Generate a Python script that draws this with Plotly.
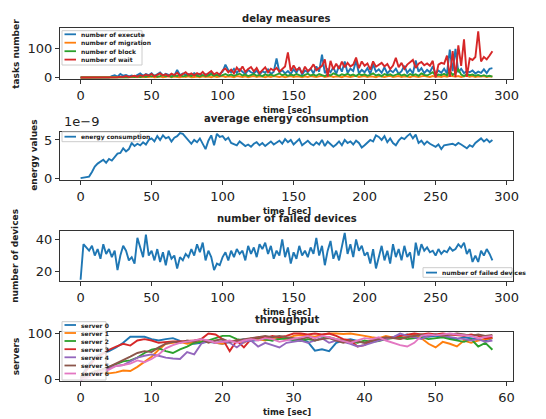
import plotly.graph_objects as go

W, H = 546, 419
def px(x): return x / W
def py(y): return 1 - y / H

# ---------------- data ----------------
time_s = list(range(0, 291, 2))

execute = [0,0,0,0,0,0,0,0,0,0,
           0,5,8,3,12,6,9,4,7,3,10,14,6,12,8,15,5,11,17,7,13,9,10,6,26,8,14,10,12,7,15,9,13,6,11,8,16,10,7,13,
           20,44,25,18,30,15,28,20,12,26,18,14,24,10,22,16,28,12,20,65,18,25,14,22,12,28,16,35,10,24,18,30,14,38,20,
           78,15,28,18,35,12,40,20,55,16,30,22,58,14,26,18,32,12,45,20,28,16,35,14,25,18,30,12,22,40,16,28,14,58,20,
           32,15,26,18,38,12,24,16,30,14,95,22,98,18,30,15,22,18,24,14,20,16,28,15,30,32]
migration = [0]*20 + [1,0,2,1,2,3,1,2,3,1,2,4,1,3,2,1,3,2,4,1,2,3,1,4,2,3,1,4,2,3,
             5,2,4,3,1,5,3,2,4,1,3,5,2,4,3,1,4,2,5,3,2,4,1,3,5,2,4,3,1,4,2,5,3,2,4,
             6,2,3,5,2,4,3,1,5,3,2,4,6,2,3,5,2,4,3,1,5,3,2,4,6,2,3,5,2,4,3,1,5,3,2,
             4,6,3,2,5,3,4,2,5,3,6,4,3,5,2,4,6,3,5,2,4,3,5,2,4,3]
block = [0]*15 + [1,2,1,3,2,4,2,5,3,6,4,7,3,5,8,4,6,3,7,5,9,4,6,8,5,10,6,4,8,5,7,11,6,9,5,
         8,12,7,10,6,9,13,7,10,5,8,12,6,9,5,11,7,10,6,9,14,8,11,6,10,7,12,8,5,9,13,7,10,6,12,
         8,5,10,7,14,9,6,11,8,13,7,10,5,12,8,11,6,9,14,7,10,5,12,8,11,6,9,13,7,10,5,12,8,11,6,
         14,9,7,12,18,6,10,8,13,7,22,9,15,28,10,5,12,8,10,6,9,5,8,4,6,3]
wait = [0,0,0,0,0,0,0,0,0,0,0,
        1,2,1,3,2,5,2,4,6,3,8,5,10,6,12,4,9,14,7,11,5,13,8,16,6,12,18,9,14,7,15,10,19,8,14,22,11,17,9,
        24,31,18,27,14,34,22,38,19,29,36,21,33,15,27,35,18,30,24,33,20,28,38,86,22,41,25,33,14,37,22,30,45,25,34,
        40,62,3,57,28,47,30,54,35,50,38,44,68,32,55,40,48,27,55,37,45,50,38,46,29,41,67,35,50,30,44,52,60,33,47,
        53,42,48,40,57,0,44,50,47,75,2,90,1,110,40,130,3,65,60,70,158,55,70,62,75,90]

energy_e9 = [0,0.05,0.1,0.2,0.8,1.5,1.9,2.1,2.4,2.0,2.5,2.3,2.8,3.2,3.3,3.9,3.5,3.8,4.6,4.2,
             4.5,4.3,4.7,4.4,5.0,5.2,4.8,5.5,5.0,5.6,5.2,5.4,4.8,5.3,5.5,5.9,5.8,5.4,4.9,4.5,
             5.0,4.7,5.2,4.5,3.8,4.9,5.6,4.3,5.8,5.4,5.5,5.0,5.3,4.6,4.5,4.3,4.8,4.5,4.2,4.4,
             4.1,4.5,4.7,4.3,4.6,4.2,4.5,4.8,4.4,4.7,4.9,4.5,5.1,4.7,5.0,4.4,4.8,5.1,4.3,4.6,
             4.9,4.5,4.3,4.7,4.4,5.0,4.2,4.8,4.5,4.1,4.4,4.8,4.3,5.0,4.6,4.8,4.4,4.9,4.6,4.0,
             4.3,4.7,5.0,4.8,5.6,5.4,5.0,5.5,4.7,5.2,4.6,4.3,4.9,5.3,5.1,5.5,5.8,5.2,5.7,4.6,
             4.9,4.4,4.8,4.5,4.3,4.1,4.4,3.8,4.3,4.4,4.4,4.5,4.3,4.6,4.4,4.2,3.9,4.3,4.1,4.6,
             4.9,5.2,4.8,5.1,4.7,5.0]

failed = [15,37,35,33,36,30,34,28,37,31,34,29,33,21,30,36,33,27,29,25,
          41,35,29,43,30,33,27,34,26,32,24,33,28,30,22,29,27,31,29,34,
          30,37,32,38,27,33,29,21,25,24,29,32,27,33,29,34,31,33,27,36,
          31,35,29,37,34,38,31,36,28,33,30,40,29,35,25,32,28,36,30,33,
          29,35,31,41,30,36,24,33,39,28,33,27,36,44,31,37,29,40,33,36,
          30,32,25,34,22,30,36,27,33,25,37,29,34,27,36,29,32,22,38,30,
          37,33,35,32,33,30,34,31,33,32,35,33,34,37,35,38,31,34,26,30,
          26,33,30,34,31,27]

t_thr = list(range(0, 59))
server0 = [5,30,50,57,62,70,80,93,93,93,88,85,88,90,84,80,78,80,82,80,78,82,85,88,84,86,88,85,90,88,
           86,88,82,63,66,62,80,85,88,84,80,84,88,90,92,95,98,92,95,93,95,94,90,88,92,90,88,85,90]
server1 = [2,8,12,15,14,16,20,19,28,40,50,65,78,80,82,78,80,82,85,80,78,83,85,80,90,88,85,90,92,88,
           95,97,95,93,97,100,100,99,100,98,95,92,90,95,92,88,95,98,90,78,70,82,78,72,85,80,85,88,90]
server2 = [3,10,18,22,28,35,40,42,48,58,65,68,62,58,66,72,80,82,85,90,95,95,88,85,88,90,87,85,88,90,
           86,84,88,85,90,92,88,85,82,80,85,82,84,88,90,92,88,90,92,88,90,92,88,85,82,88,72,80,65]
server3 = [3,25,45,55,65,72,78,74,85,88,85,80,82,83,83,84,85,88,100,98,88,62,85,70,88,92,90,95,92,95,
           100,100,98,100,98,100,95,88,85,72,75,85,88,90,92,95,98,100,98,100,98,100,98,96,95,98,95,90,92]
server4 = [0,10,15,20,25,30,32,40,48,52,55,52,48,46,45,60,55,78,85,80,84,80,70,82,85,72,80,75,70,80,
           82,85,80,85,90,80,85,82,78,72,75,80,85,88,92,100,95,92,88,95,98,95,92,90,88,85,88,82,85]
server5 = [2,12,18,22,28,35,42,50,58,62,60,70,78,82,80,85,82,88,80,85,88,82,85,88,90,92,95,92,95,92,
           90,88,92,85,88,90,85,80,85,82,80,85,88,92,90,88,92,95,98,96,98,95,98,100,98,95,98,95,97]
server6 = [0,5,12,18,22,30,32,35,42,38,45,55,68,75,80,83,85,88,85,80,82,85,80,85,88,85,90,88,82,85,
           88,92,95,90,95,92,88,85,80,85,90,88,92,85,80,75,72,80,95,98,96,98,100,98,96,95,90,92,95]

delay_names = ["number of execute", "number of migration", "number of block", "number of wait"]
server_names = ["server 0", "server 1", "server 2", "server 3", "server 4", "server 5", "server 6"]
C = ["#1f77b4", "#ff7f0e", "#2ca02c", "#d62728", "#9467bd", "#8c564b", "#e377c2"]

# ---------------- figure ----------------
fig = go.Figure()
LW = 1.9
for ys, nm, c in zip([execute, migration, block, wait], delay_names, C):
    fig.add_trace(go.Scatter(x=time_s, y=ys, name=nm, mode="lines",
                             line=dict(color=c, width=LW), xaxis="x", yaxis="y"))
fig.add_trace(go.Scatter(x=time_s, y=energy_e9, name="energy consumption", mode="lines",
                         line=dict(color=C[0], width=LW), xaxis="x2", yaxis="y2"))
fig.add_trace(go.Scatter(x=time_s, y=failed, name="number of failed devices", mode="lines",
                         line=dict(color=C[0], width=LW), xaxis="x3", yaxis="y3"))
for ys, nm, c in zip([server0, server1, server2, server3, server4, server5, server6], server_names, C):
    fig.add_trace(go.Scatter(x=t_thr, y=ys, name=nm, mode="lines",
                             line=dict(color=c, width=LW), xaxis="x4", yaxis="y4"))

XL, XR = 60, 513
boxes = [(28.3, 79.3), (131.7, 180.0), (230.7, 281.0), (331.7, 381.0)]
FONT = "DejaVu Sans"
TXT = "#222"

def ax(**kw):
    d = dict(showline=True, mirror=True, linecolor="#333", linewidth=1,
             ticks="outside", ticklen=4, tickcolor="#333", tickwidth=1,
             showgrid=False, zeroline=False, automargin=False,
             tickfont=dict(family=FONT, size=13, color=TXT))
    d.update(kw)
    return d

layout = dict(width=W, height=H, margin=dict(l=0, r=0, t=0, b=0, pad=0),
              paper_bgcolor="white", plot_bgcolor="white", showlegend=False)
xr_main = [-14.5, 304.5]
yranges = [[-6, 168], [-0.25, 6.08], [14.2, 45.4], [-2.5, 104]]
ytv = [[0, 100], [0, 5], [20, 40], [0, 100]]
for i, (top, bot) in enumerate(boxes):
    sfx = "" if i == 0 else str(i + 1)
    dom_y = [py(bot), py(top)]
    if i < 3:
        xa = ax(domain=[px(XL), px(XR)], range=xr_main, tickvals=[0, 50, 100, 150, 200, 250, 300],
                anchor="y" + sfx)
    else:
        xa = ax(domain=[px(XL), px(XR)], range=[-2.9, 60.9], tickvals=[0, 10, 20, 30, 40, 50, 60],
                anchor="y" + sfx)
    ya = ax(domain=dom_y, range=yranges[i], tickvals=ytv[i], anchor="x" + sfx)
    layout["xaxis" + sfx] = xa
    layout["yaxis" + sfx] = ya

fig.update_layout(**layout)

ann = []
shapes = []
cx = (XL + XR) / 2
titles = ["delay measures", "average energy consumption", "number of failed devices", "throughput"]
title_y = [18.3, 118.3, 218.3, 319.5]
for t, y in zip(titles, title_y):
    ann.append(dict(text="<b>%s</b>" % t, x=px(cx), y=py(y), xref="paper", yref="paper",
                    showarrow=False, xanchor="center", yanchor="middle",
                    font=dict(family=FONT, size=10, color=TXT)))
for (top, bot) in boxes:
    ann.append(dict(text="<b>time [sec]</b>", x=px(cx), y=py(bot + 30.5), xref="paper", yref="paper",
                    showarrow=False, xanchor="center", yanchor="middle",
                    font=dict(family=FONT, size=8.5, color=TXT)))
ylabels = ["tasks number", "energy values", "number of devices", "servers"]
ylab_x = [16, 34, 15, 16]
for t, xx, (top, bot) in zip(ylabels, ylab_x, boxes):
    ann.append(dict(text="<b>%s</b>" % t, x=px(xx), y=py((top + bot) / 2), xref="paper", yref="paper",
                    showarrow=False, xanchor="center", yanchor="middle", textangle=-90,
                    font=dict(family=FONT, size=9, color=TXT)))
ann.append(dict(text="1e\u22129", x=px(62), y=py(121.5), xref="paper", yref="paper",
                showarrow=False, xanchor="left", yanchor="middle",
                font=dict(family=FONT, size=13, color=TXT)))

def legend(x0, y0, x1, y1, names, colors, ys, lx0, lx1, tx):
    shapes.append(dict(type="rect", xref="paper", yref="paper", x0=px(x0), x1=px(x1),
                       y0=py(y1), y1=py(y0), fillcolor="rgba(255,255,255,0.85)",
                       line=dict(color="#cccccc", width=1), layer="above"))
    for nm, c, yy in zip(names, colors, ys):
        shapes.append(dict(type="line", xref="paper", yref="paper", x0=px(lx0), x1=px(lx1),
                           y0=py(yy), y1=py(yy), line=dict(color=c, width=1.8), layer="above"))
        ann.append(dict(text="<b>%s</b>" % nm, x=px(tx), y=py(yy), xref="paper", yref="paper",
                        showarrow=False, xanchor="left", yanchor="middle",
                        font=dict(family=FONT, size=6, color=TXT)))

legend(62, 30.7, 142, 65, delay_names, C[:4], [34.3, 42.7, 51.2, 59.6], 64.5, 76, 78.5)
legend(62, 131.9, 140, 141.7, ["energy consumption"], [C[0]], [136.7], 64.5, 76, 78.5)
legend(423, 267.7, 512, 277.3, ["number of failed devices"], [C[0]], [272.6], 426, 437, 440)
legend(62, 321.7, 106, 380, server_names, C[:7], [325, 333, 341, 349.2, 357.3, 365.5, 373.5], 64.5, 76, 78.5)

fig.update_layout(annotations=ann, shapes=shapes)
fig.write_html("out.html", config={"displayModeBar": False},
               post_script="document.body.style.margin='0';document.body.style.overflow='hidden';")
